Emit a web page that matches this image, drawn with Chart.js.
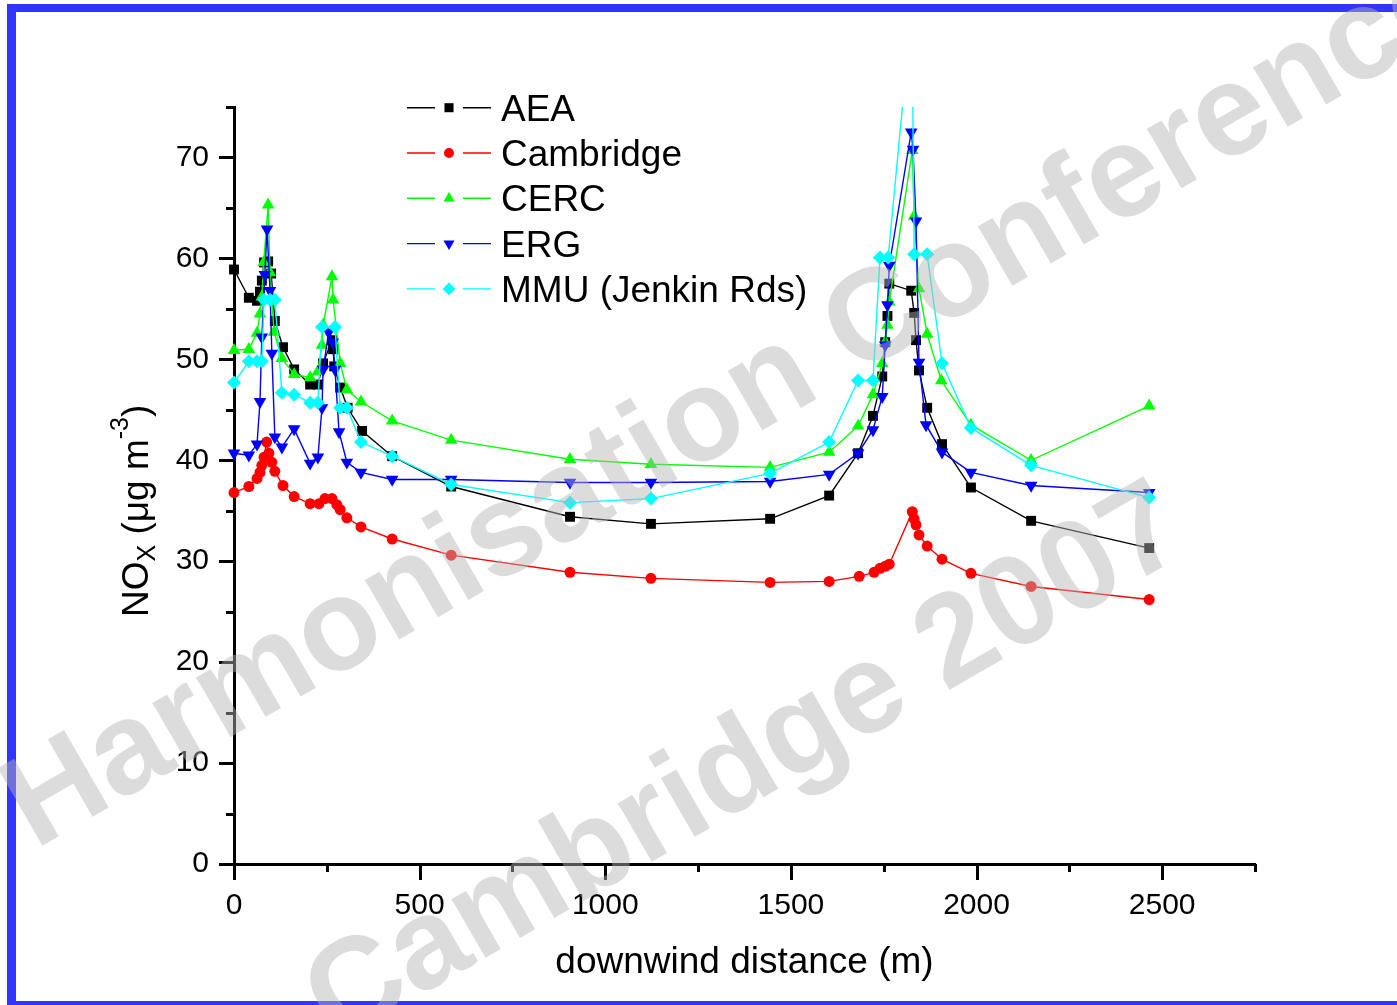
<!DOCTYPE html>
<html><head><meta charset="utf-8">
<script src="https://cdn.jsdelivr.net/npm/chart.js@4.4.1/dist/chart.umd.min.js"></script>
<style>html,body{margin:0;padding:0;background:#fff;overflow:hidden;} canvas{display:block;}</style>
</head><body>
<canvas id="c" width="1397" height="1005"></canvas>
<script>
// ---------------- data ----------------
const aeaX = [0, 40, 62, 70, 75, 81, 92, 100, 110, 132, 162, 205, 226, 240, 264, 267, 270, 286, 306, 345, 426, 585, 905, 1123, 1444, 1603, 1681, 1721, 1746, 1754, 1760, 1765, 1824, 1832, 1837, 1845, 1867, 1907, 1985, 2147, 2465];
const aeaY = [58.9, 56.1, 55.8, 56.7, 57.8, 59.6, 59.7, 58.5, 53.8, 51.2, 49.0, 47.5, 47.5, 49.6, 51.9, 51.0, 49.3, 47.2, 45.2, 42.9, 40.4, 37.4, 34.4, 33.7, 34.2, 36.5, 40.7, 44.4, 48.3, 51.7, 54.3, 57.5, 56.8, 54.6, 51.9, 48.9, 45.2, 41.6, 37.3, 34.0, 31.3];

const cambX = [0, 40, 62, 70, 75, 81, 88, 94, 102, 110, 132, 162, 205, 229, 245, 264, 277, 286, 304, 342, 426, 585, 905, 1123, 1444, 1603, 1684, 1724, 1740, 1754, 1765, 1827, 1832, 1837, 1845, 1867, 1907, 1985, 2147, 2465];
const cambY = [36.8, 37.4, 38.2, 38.8, 39.5, 40.3, 41.8, 40.7, 39.8, 38.9, 37.5, 36.4, 35.7, 35.7, 36.2, 36.2, 35.6, 35.1, 34.3, 33.4, 32.2, 30.6, 28.9, 28.3, 27.9, 28.0, 28.5, 28.9, 29.3, 29.5, 29.7, 34.9, 34.2, 33.6, 32.6, 31.5, 30.2, 28.8, 27.5, 26.2];

const cercX = [0, 40, 62, 70, 75, 80, 92, 97, 108, 129, 162, 205, 226, 237, 240, 264, 267, 286, 304, 342, 426, 585, 905, 1123, 1444, 1603, 1681, 1721, 1746, 1754, 1760, 1765, 1827, 1832, 1845, 1867, 1905, 1985, 2147, 2465];
const cercY = [50.9, 51.0, 52.6, 54.5, 56.2, 59.6, 65.3, 58.6, 52.7, 50.1, 48.5, 48.2, 48.8, 51.4, 53.4, 58.2, 55.9, 49.6, 47.0, 45.8, 43.9, 42.0, 40.1, 39.6, 39.3, 40.8, 43.4, 46.5, 49.6, 51.7, 53.4, 55.7, 70.7, 64.2, 57.0, 52.5, 47.9, 43.5, 40.0, 45.4];

const ergX = [0, 40, 62, 70, 75, 83, 89, 97, 102, 110, 129, 162, 205, 226, 237, 240, 255, 266, 272, 283, 304, 342, 426, 585, 905, 1123, 1444, 1603, 1681, 1721, 1746, 1754, 1760, 1765, 1824, 1829, 1837, 1845, 1864, 1907, 1985, 2147, 2465];
const ergY = [40.7, 40.5, 41.6, 45.8, 52.2, 58.4, 62.9, 56.8, 50.6, 42.3, 41.3, 43.1, 39.7, 40.3, 45.2, 49.0, 52.7, 51.7, 49.0, 42.8, 39.8, 38.8, 38.1, 38.1, 37.8, 37.8, 37.9, 38.6, 40.7, 43.0, 46.3, 51.4, 55.4, 59.3, 72.5, 70.8, 63.7, 49.7, 43.5, 40.8, 38.8, 37.5, 36.8];

const mmuX = [0, 40, 62, 75, 81, 97, 110, 129, 162, 205, 226, 237, 272, 286, 304, 342, 426, 585, 905, 1123, 1444, 1603, 1681, 1721, 1740, 1762, 1826, 1832, 1867, 1907, 1985, 2147, 2465];
const mmuY = [47.7, 49.8, 49.8, 49.8, 55.9, 55.9, 55.9, 46.7, 46.5, 45.7, 45.7, 53.2, 53.2, 45.2, 45.2, 41.8, 40.4, 37.6, 35.8, 36.2, 38.7, 41.8, 47.9, 47.9, 60.1, 60.1, 85.0, 60.4, 60.4, 49.6, 43.2, 39.5, 36.3];

const seriesNames = ['AEA', 'Cambridge', 'CERC', 'ERG', 'MMU (Jenkin Rds)'];
const xTickLabels = ['0', '500', '1000', '1500', '2000', '2500'];
const yTickLabels = ['0', '10', '20', '30', '40', '50', '60', '70'];
const xTitle = 'downwind distance (m)';
const yTitleParts = ['NO', 'X', ' (\u03BCg m', '-3', ')'];
const watermarkLines = ['Harmonisation Conference', 'Cambridge 2007'];

// ---------------- styles ----------------
const FONT = '"Liberation Sans", Arial, sans-serif';
Chart.defaults.font.family = FONT;
Chart.defaults.color = '#000';

const styles = [
  {color: '#000000', pointStyle: 'rect', radius: 7, rotation: 0, order: 4},
  {color: '#ff0000', pointStyle: 'circle', radius: 5.5, rotation: 0, order: 3},
  {color: '#00ff00', pointStyle: 'triangle', radius: 7.3, rotation: 0, order: 2},
  {color: '#0000ff', pointStyle: 'triangle', radius: 7.3, rotation: 180, order: 1},
  {color: '#00ffff', pointStyle: 'rectRot', radius: 7, rotation: 0, order: 0}
];
const seriesX = [aeaX, cambX, cercX, ergX, mmuX];
const seriesY = [aeaY, cambY, cercY, ergY, mmuY];

const datasets = seriesNames.map((name, i) => ({
  label: name,
  data: seriesX[i].map((x, j) => ({x: x, y: seriesY[i][j]})),
  borderColor: styles[i].color,
  backgroundColor: styles[i].color,
  borderWidth: 1.4,
  pointStyle: styles[i].pointStyle,
  pointRotation: styles[i].rotation,
  pointRadius: styles[i].radius,
  pointBorderWidth: 0,
  pointBackgroundColor: styles[i].color,
  pointHoverRadius: styles[i].radius,
  tension: 0,
  order: styles[i].order,
  clip: {left: 12, right: 12, top: 0, bottom: 12}
}));

function legendMarker(ctx, style, x, y, r) {
  ctx.beginPath();
  if (style.pointStyle === 'rect') {
    const s = r / Math.SQRT2;
    ctx.rect(x - s, y - s, 2 * s, 2 * s);
  } else if (style.pointStyle === 'circle') {
    ctx.arc(x, y, r, 0, Math.PI * 2);
  } else if (style.pointStyle === 'triangle') {
    const d = style.rotation === 180 ? -1 : 1;
    ctx.moveTo(x, y - d * r);
    ctx.lineTo(x + r * Math.sin(Math.PI * 2 / 3), y + d * r * 0.5);
    ctx.lineTo(x - r * Math.sin(Math.PI * 2 / 3), y + d * r * 0.5);
  } else {
    ctx.moveTo(x, y - r); ctx.lineTo(x + r, y); ctx.lineTo(x, y + r); ctx.lineTo(x - r, y);
  }
  ctx.closePath();
  ctx.fillStyle = style.color;
  ctx.fill();
}

const decor = {
  id: 'decor',
  beforeDatasetsDraw(chart) {
    const ctx = chart.ctx, xs = chart.scales.x, ys = chart.scales.y;
    const a = chart.chartArea;
    ctx.save();
    ctx.strokeStyle = '#000';
    ctx.lineWidth = 3;
    ctx.beginPath();
    for (let v = 0; v <= 2750; v += 250) {
      const px = Math.round(xs.getPixelForValue(v)) + 0.5;
      const len = (v % 500 === 0) ? 16 : 8;
      ctx.moveTo(px, a.bottom); ctx.lineTo(px, a.bottom + len);
    }
    for (let v = 0; v <= 75; v += 5) {
      const py = Math.round(ys.getPixelForValue(v)) + 0.5;
      const len = (v % 10 === 0) ? 15 : 8;
      ctx.moveTo(a.left, py); ctx.lineTo(a.left - len, py);
    }
    ctx.stroke();
    ctx.restore();
  },
  afterDraw(chart) {
    const ctx = chart.ctx;
    ctx.save();
    // y axis title with subscript / superscript
    ctx.translate(148, 617);
    ctx.rotate(-Math.PI / 2);
    ctx.fillStyle = '#000';
    ctx.textAlign = 'left';
    ctx.textBaseline = 'alphabetic';
    const fonts = ['37px ' + FONT, '25px ' + FONT, '37px ' + FONT, '25px ' + FONT, '37px ' + FONT];
    const shifts = [0, 7, 0, -20, 0];
    let tx = 0;
    yTitleParts.forEach((t, i) => {
      ctx.font = fonts[i];
      ctx.fillText(t, tx, shifts[i]);
      tx += ctx.measureText(t).width;
    });
    ctx.restore();

    // legend
    ctx.save();
    seriesNames.forEach((name, i) => {
      const cy = 107.7 + i * 45.3;
      ctx.strokeStyle = styles[i].color;
      ctx.lineWidth = 1.4;
      ctx.beginPath();
      ctx.moveTo(407, cy); ctx.lineTo(435, cy);
      ctx.moveTo(463, cy); ctx.lineTo(491, cy);
      ctx.stroke();
      legendMarker(ctx, styles[i], 449, cy, styles[i].pointStyle === 'circle' ? 5 : 6.4);
      ctx.fillStyle = '#000';
      ctx.font = '37px ' + FONT;
      ctx.textAlign = 'left';
      ctx.textBaseline = 'alphabetic';
      ctx.fillText(name, 501, cy + 13);
    });
    ctx.restore();

    // frame
    ctx.save();
    ctx.fillStyle = '#3434ff';
    ctx.fillRect(7, 4, 9, 1001);
    ctx.fillRect(7, 4, 1390, 8);
    ctx.fillRect(7, 1001, 1390, 4);
    ctx.restore();

    // watermark
    ctx.save();
    ctx.fillStyle = 'rgba(181,181,181,0.47)';
    ctx.font = 'bold 130px ' + FONT;
    ctx.textAlign = 'left';
    ctx.textBaseline = 'alphabetic';
    ctx.translate(35, 850);
    ctx.rotate(-30 * Math.PI / 180);
    ctx.fillText(watermarkLines[0], 0, 0);
    ctx.restore();
    ctx.save();
    ctx.fillStyle = 'rgba(181,181,181,0.47)';
    ctx.font = 'bold 128px ' + FONT;
    ctx.translate(336, 1044);
    ctx.rotate(-30 * Math.PI / 180);
    ctx.fillText(watermarkLines[1], 0, 0);
    ctx.restore();
  }
};

new Chart(document.getElementById('c'), {
  type: 'line',
  data: {datasets: datasets},
  options: {
    responsive: false,
    animation: false,
    events: [],
    layout: {padding: {left: 0, right: 142, top: 107, bottom: 0}},
    plugins: {legend: {display: false}, tooltip: {enabled: false}, title: {display: false}},
    scales: {
      x: {
        type: 'linear', min: 0, max: 2750,
        afterFit(s) { s.height = 141; },
        grid: {display: true, drawOnChartArea: false, drawTicks: false},
        border: {display: true, width: 3, color: '#000'},
        ticks: {
          stepSize: 250, autoSkip: false, maxRotation: 0, padding: 24,
          font: {size: 30}, color: '#000',
          callback: v => xTickLabels.includes(String(v)) ? String(v) : ''
        },
        title: {display: true, text: xTitle, font: {size: 37}, color: '#000', padding: {top: 0, bottom: 20}}
      },
      y: {
        type: 'linear', min: 0, max: 75,
        afterFit(s) { s.width = 234; },
        grid: {display: true, drawOnChartArea: false, drawTicks: false},
        border: {display: true, width: 3, color: '#000'},
        ticks: {
          stepSize: 5, autoSkip: false, padding: 25,
          font: {size: 30}, color: '#000',
          callback: v => yTickLabels.includes(String(v)) ? String(v) : ''
        }
      }
    }
  },
  plugins: [decor]
});
</script>
</body></html>
